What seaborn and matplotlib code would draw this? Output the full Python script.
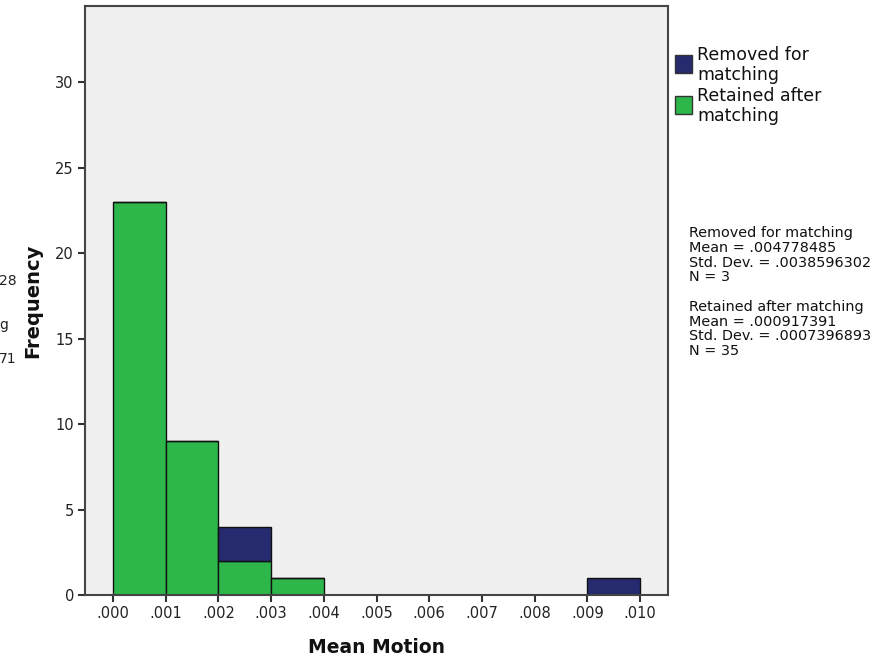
import numpy as np
import pandas as pd
import matplotlib
matplotlib.use("Agg")
import matplotlib.pyplot as plt
import matplotlib.patches as mpatches
import seaborn as sns

# Histogram bins (Mean Motion) and counts per group
bin_edges = [0.000, 0.001, 0.002, 0.003, 0.004, 0.005, 0.006, 0.007, 0.008, 0.009, 0.010]
retained_counts = [23, 9, 2, 1, 0, 0, 0, 0, 0, 0]
removed_counts = [0, 0, 2, 0, 0, 0, 0, 0, 0, 1]
groups = ["Removed for matching", "Retained after matching"]
legend_labels = ["Removed for\nmatching", "Retained after\nmatching"]
tick_labels = [".000", ".001", ".002", ".003", ".004", ".005", ".006", ".007", ".008", ".009", ".010"]
colors = {"Removed for matching": "#262a6f", "Retained after matching": "#2db74b"}

centers = [(a + b) / 2 for a, b in zip(bin_edges[:-1], bin_edges[1:])]
df = pd.DataFrame({
    "Mean Motion": centers * 2,
    "count": removed_counts + retained_counts,
    "group": [groups[0]] * len(centers) + [groups[1]] * len(centers),
})

W, H = 895, 660
sns.set_style("ticks")
fig = plt.figure(figsize=(W / 100, H / 100), dpi=100)
ax = fig.add_axes([85 / W, 65 / H, 583 / W, 589 / H])
ax.set_facecolor("#f0f0f0")

sns.histplot(data=df, x="Mean Motion", weights="count", hue="group",
             hue_order=groups, bins=bin_edges, multiple="stack",
             palette=colors, alpha=1, edgecolor="#111111", linewidth=1.0,
             legend=False, ax=ax)

ax.set_xlim(-0.00053, 0.01053)
ax.set_ylim(0, 34.45)
ax.set_xticks(bin_edges)
ax.set_xticklabels(tick_labels)
ax.set_yticks([0, 5, 10, 15, 20, 25, 30])
ax.tick_params(axis="both", direction="out", length=5, width=1.5,
               color="#333333", labelsize=10.5, labelcolor="#222222", pad=3)
for s in ax.spines.values():
    s.set_color("#444444")
    s.set_linewidth(1.5)
    s.set_visible(True)

ax.set_xlabel("Mean Motion", fontsize=13.5, fontweight="bold", color="#111111", labelpad=12)
ax.set_ylabel("Frequency", fontsize=14, fontweight="bold", color="#111111", labelpad=9)

# Legend: colour swatches with wrapped labels
swatch_tops = [55, 96]
label_tops = [46, 87]
for g, lab, sy, ty in zip(groups, legend_labels, swatch_tops, label_tops):
    fig.patches.append(mpatches.Rectangle((675 / W, 1 - (sy + 18) / H), 17 / W, 18 / H,
                                          transform=fig.transFigure, facecolor=colors[g],
                                          edgecolor="#333333", linewidth=1.0))
    fig.text(697 / W, 1 - ty / H, lab, ha="left", va="top", fontsize=12.5,
             linespacing=1.15, color="#111111")

# Summary statistics
stats = ("Removed for matching\nMean = .004778485\nStd. Dev. = .0038596302\nN = 3\n\n"
         "Retained after matching\nMean = .000917391\nStd. Dev. = .0007396893\nN = 35")
fig.text(689 / W, 1 - 226 / H, stats, ha="left", va="top", fontsize=10.4,
         linespacing=1.07, color="#111111")

# Fragments of neighbouring panel text at the left edge
fig.text(17 / W, 1 - 281 / H, "28", ha="right", va="center", fontsize=10, color="#222222")
fig.text(8 / W, 1 - 325 / H, "g", ha="right", va="center", fontsize=10, color="#222222")
fig.text(17 / W, 1 - 359 / H, "71", ha="right", va="center", fontsize=10, color="#222222")

fig.savefig("out.png", dpi=100, facecolor="white")
